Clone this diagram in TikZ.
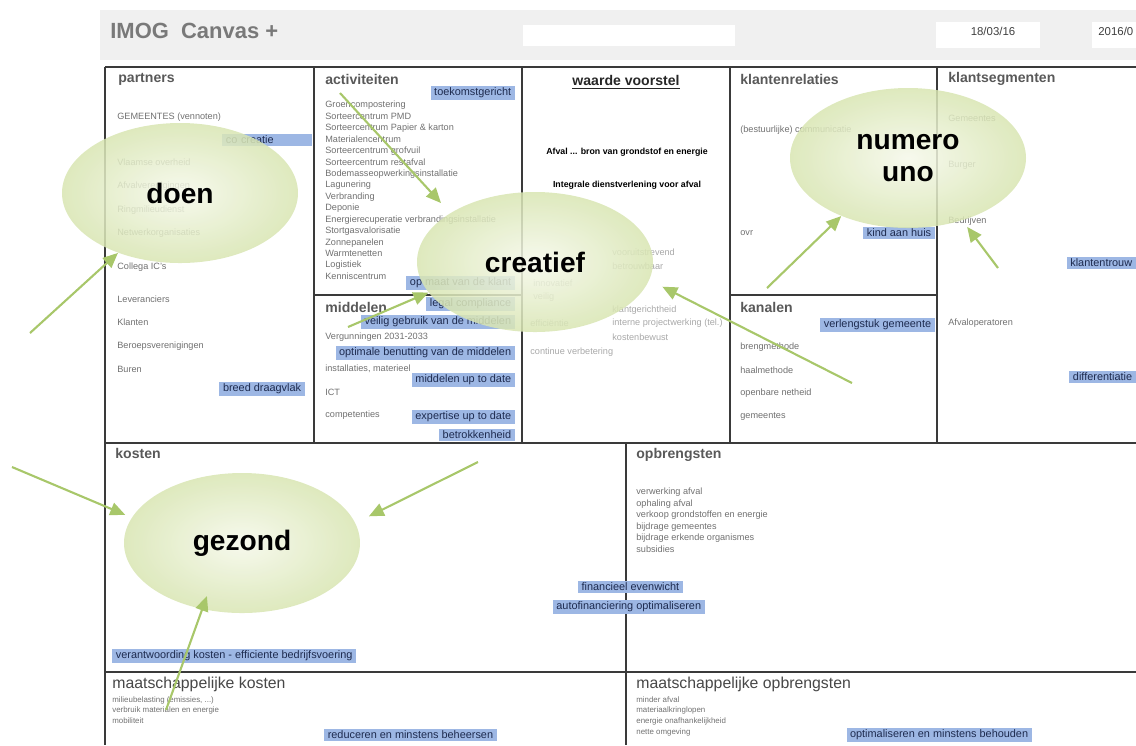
\documentclass[tikz,border=0pt]{standalone}
\usepackage{fontspec}
\setmainfont{Liberation Sans}
\usepackage{xcolor}
\usepackage{tikz}
\usetikzlibrary{arrows.meta,positioning,shapes.geometric}
\definecolor{cvline}{HTML}{3A3A3A}
\definecolor{cvgrey}{HTML}{707070}
\definecolor{cvfaint}{HTML}{A8A8A8}
\definecolor{cvhead}{HTML}{595959}
\definecolor{cvblue}{HTML}{9DB7E4}
\definecolor{cvnavy}{HTML}{1E2B4F}
\definecolor{cvpale}{HTML}{F5F8EA}
\definecolor{cvlime}{HTML}{D8E5B2}
\definecolor{cvarrow}{HTML}{A8C76A}
\tikzset{
  frame/.style={draw=cvline,line width=0.7pt},
  hd/.style={anchor=west,inner sep=0pt,font=\fontsize{8}{9}\selectfont\bfseries,text=cvhead},
  lbl/.style={anchor=west,inner sep=0pt,font=\fontsize{5.2}{6.5}\selectfont,text=cvgrey,align=left},
  tag/.style={anchor=east,fill=cvblue,inner xsep=2pt,inner ysep=1.3pt,font=\fontsize{6.2}{7}\selectfont,text=cvnavy},
  blob/.style={ellipse,inner sep=0pt,minimum width=47.2mm,minimum height=28mm,inner color=cvpale,
    outer color=cvlime,fill opacity=0.85,text opacity=1,font=\fontsize{16}{18}\selectfont\bfseries,align=center},
  arr/.style={-{Triangle[length=3mm,width=2.6mm]},line width=1.2pt,draw=cvarrow},
}
\begin{document}
\begin{tikzpicture}[x=0.2mm,y=-0.2mm]
\useasboundingbox (0,0) rectangle (1136,745);
\fill[gray!12] (100,10) rectangle (1136,60);
\fill[white] (523,25) rectangle (735,46);
\fill[white] (936,22) rectangle (1040,48);
\fill[white] (1092,22) rectangle (1136,48);
\node[anchor=west,inner sep=0pt,font=\fontsize{12.5}{14}\selectfont\bfseries,text=gray!95!black] (title) at (110,31) {IMOG\ \ Canvas +};
\node[inner sep=0pt,font=\fontsize{6.5}{7}\selectfont,text=black!75] (datum) at (993,31) {18/03/16};
\node[anchor=west,inner sep=0pt,font=\fontsize{6.5}{7}\selectfont,text=black!75] (versie) at (1098,31) {2016/0};

\draw[frame,line width=1.1pt] (1136,67) -- (105,67);
\draw[frame] (105,67) -- (105,745);
\draw[frame] (105,443) -- (1136,443);
\draw[frame] (105,672) -- (1136,672);
\foreach \x in {314,522,730,937} \draw[frame] (\x,67) -- (\x,443);
\draw[frame] (314,295) -- (522,295);
\draw[frame] (730,295) -- (937,295);
\draw[frame] (626,443) -- (626,745);

\node[hd] (partners) at (118,79) {partners};
\node[hd] (activ) at (325,79) {activiteiten};
\node[hd] (middelen) at (325,307) {middelen};
\node[hd] (relaties) at (740,79) {klantenrelaties};
\node[hd] (kanalen) at (740,307) {kanalen};
\node[hd] (segment) at (948,79) {klantsegmenten};
\node[hd] (kosten) at (115,453) {kosten};
\node[hd] (opbr) at (636,455) {opbrengsten};
\node[hd,font=\fontsize{9}{10}\selectfont,text=black!72] (mkosten) at (112,684) {maatschappelijke kosten};
\node[hd,font=\fontsize{9}{10}\selectfont,text=black!72] (mopbr) at (636,684) {maatschappelijke opbrengsten};
\node[inner sep=0pt,font=\fontsize{8}{9}\selectfont\bfseries,text=black!85] (waarde) at (626,82) {\underline{waarde voorstel}};

\foreach \y/\t in {117/GEMEENTES (vennoten),162/Vlaamse overheid,186/Afvalverenigingen,210/Ringmilieudienst,
  233/Netwerkorganisaties,267/Collega IC's,299/Leveranciers,322/Klanten,346/Beroepsverenigingen,369/Buren}
  \node[lbl] (p\y) at (117,\y) {\t};
\node[lbl,anchor=north west] (actlist) at (325,101) {Groencompostering\\Sorteercentrum PMD\\Sorteercentrum Papier \& karton\\
  Materialencentrum\\Sorteercentrum grofvuil\\Sorteercentrum restafval\\Bodemasseopwerkingsinstallatie\\Lagunering\\
  Verbranding\\Deponie\\Energierecuperatie verbrandingsinstallatie\\Stortgasvalorisatie\\Zonnepanelen\\Warmtenetten\\
  Logistiek\\Kenniscentrum};
\node[lbl] (verg) at (325,337) {Vergunningen 2031-2033};
\node[lbl] (install) at (325,369) {installaties, materieel};
\node[lbl] (ict) at (325,392) {ICT};
\node[lbl] (compet) at (325,415) {competenties};
\node[lbl] (bestuur) at (740,130) {(bestuurlijke) communicatie};
\node[lbl] (ovr) at (740,233) {ovr};
\foreach \y/\t in {347/brengmethode,370/haalmethode,393/openbare netheid,416/gemeentes}
  \node[lbl] (k\y) at (740,\y) {\t};
\foreach \y/\t in {118/Gemeentes,165/Burger,221/Bedrijven,323/Afvaloperatoren}
  \node[lbl] (s\y) at (948,\y) {\t};
\node[inner sep=0pt,font=\fontsize{5}{6}\selectfont\bfseries] (afval) at (627,152) {Afval ... bron van grondstof en energie};
\node[inner sep=0pt,font=\fontsize{5}{6}\selectfont\bfseries] (integraal) at (627,185) {Integrale dienstverlening voor afval};
\foreach \x/\y/\t in {612/252/vooruitstrevend,612/266/betrouwbaar,533/283/innovatief,533/297/veilig,612/310/klantgerichtheid,
  530/323/efficiëntie,612/323/interne projectwerking (tel.),612/337/kostenbewust,530/352/continue verbetering}
  \node[lbl,text=cvfaint] (w\x\y) at (\x,\y) {\t};
\node[lbl,anchor=north west] (opbrlist) at (636,488) {verwerking afval\\ophaling afval\\verkoop grondstoffen en energie\\
  bijdrage gemeentes\\bijdrage erkende organismes\\subsidies};
\node[lbl,anchor=north west,font=\fontsize{4.5}{6}\selectfont] (mklist) at (112,696) {milieubelasting (emissies, ...)\\
  verbruik materialen en energie\\mobiliteit};
\node[lbl,anchor=north west,font=\fontsize{4.5}{6.2}\selectfont] (molist) at (636,696) {minder afval\\materiaalkringlopen\\
  energie onafhankelijkheid\\nette omgeving};

\node[tag] (toekomst) at (515,93) {toekomstgericht};
\node[tag,anchor=west,text width=16.5mm,align=left] (cocreatie) at (222,140) {co creatie};
\node[tag] (draagvlak) at (305,389) {breed draagvlak};
\node[tag] (opmaat) at (515,283) {op maat van de klant};
\node[tag] (legal) at (515,304) {legal compliance};
\node[tag] (veilig) at (515,322) {veilig gebruik van de middelen};
\node[tag] (benutting) at (515,353) {optimale benutting van de middelen};
\node[tag] (uptodate) at (515,380) {middelen up to date};
\node[tag] (expertise) at (515,417) {expertise up to date};
\node[tag] (betrok) at (515,435) {betrokkenheid};
\node[tag] (kindhuis) at (935,233) {kind aan huis};
\node[tag] (verleng) at (935,325) {verlengstuk gemeente};
\node[tag] (trouw) at (1136,263) {klantentrouw};
\node[tag] (diff) at (1136,377) {differentiatie};
\node[tag] (evenwicht) at (683,587) {financieel evenwicht};
\node[tag] (autofin) at (705,607) {autofinanciering optimaliseren};
\node[tag,anchor=west] (verantw) at (112,656) {verantwoording kosten - efficiente bedrijfsvoering};
\node[tag] (reduc) at (497,735) {reduceren en minstens beheersen};
\node[tag] (optim) at (1032,735) {optimaliseren en minstens behouden};

\node[blob] (doen) at (180,193) {doen};
\node[blob] (creatief) at (535,262) {creatief};
\node[blob] (numero) at (908,158) {numero\\uno};
\node[blob] (gezond) at (242,543) {gezond};

\coordinate (a1) at (30,333);
\coordinate (a2) at (340,93);
\coordinate (a3) at (348,327);
\coordinate (a4) at (852,383);
\coordinate (a5) at (767,288);
\coordinate (a6) at (998,268);
\coordinate (a7) at (12,467);
\coordinate (a8) at (478,462);
\coordinate (a9) at (166,710);
\draw[arr] (a1) -- (doen.224);
\draw[arr,shorten >=2.7mm] (a2) -- (creatief.150);
\draw[arr] (a3) -- (creatief.196);
\draw[arr,shorten >=2.9mm] (a4) -- (creatief.351);
\draw[arr] (a5) -- (numero.221);
\draw[arr,shorten >=1.6mm] (a6) -- (numero.311);
\draw[arr,shorten >=1.4mm] (a7) -- (gezond.167);
\draw[arr,shorten >=3mm] (a8) -- (gezond.10);
\draw[arr,shorten >=-2.8mm] (a9) -- (gezond.239);
\end{tikzpicture}
\end{document}
